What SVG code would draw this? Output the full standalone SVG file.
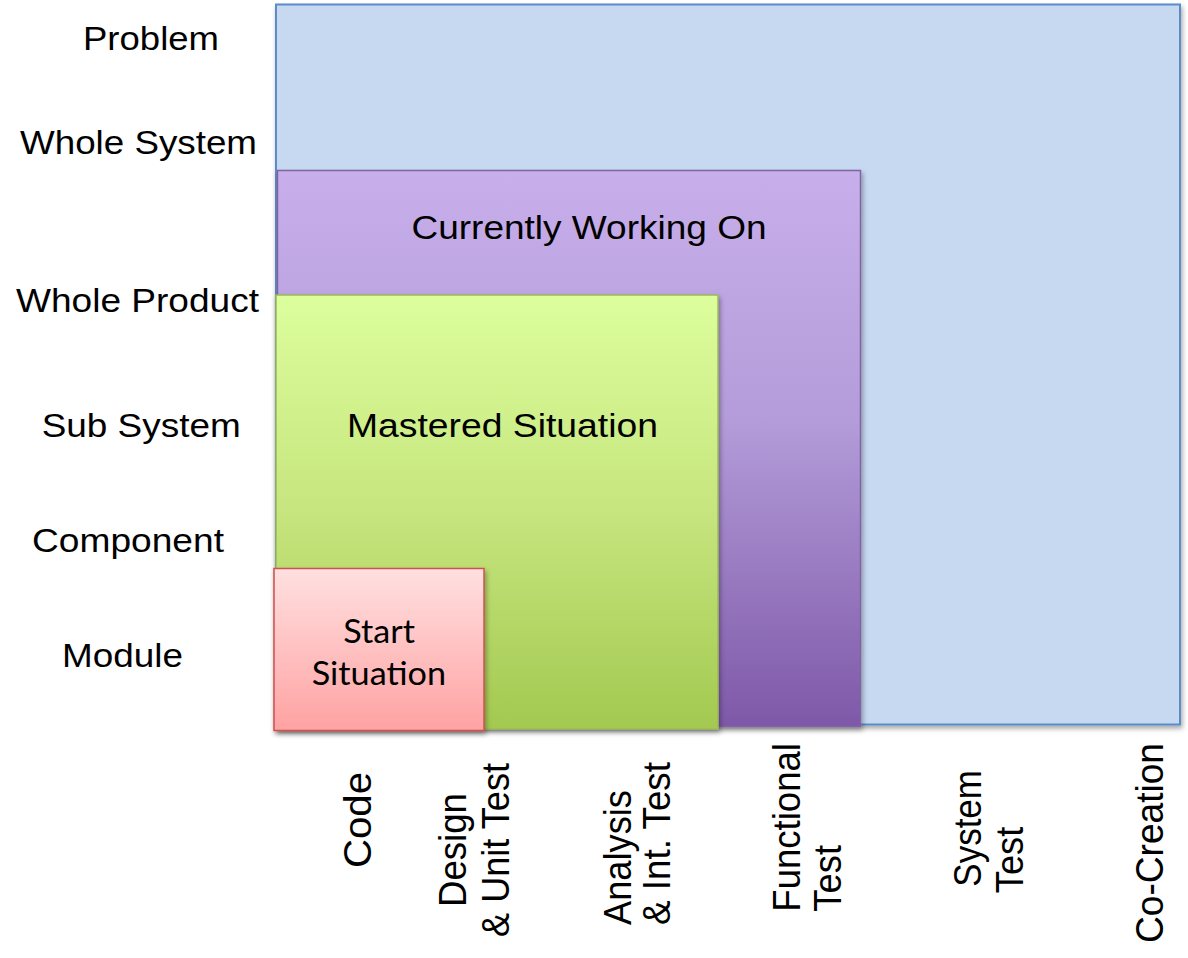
<svg xmlns="http://www.w3.org/2000/svg" width="1188" height="958" viewBox="0 0 1188 958">
<style>
.lbl{font-family:"Liberation Sans",Arial,Helvetica,sans-serif;font-size:33.5px;fill:#000}
.axl{font-family:"Liberation Sans",Arial,Helvetica,sans-serif;font-size:38px;fill:#000}
.cal{font-family:Lato,"Open Sans",sans-serif;font-size:33px;fill:#000}
</style>
<defs>
<filter id="sh" x="-5%" y="-5%" width="110%" height="110%">
<feDropShadow dx="1.5" dy="3" stdDeviation="2.5" flood-color="#000" flood-opacity="0.35"/>
</filter>
<linearGradient id="gPurple" x1="0" y1="0" x2="0" y2="1">
<stop offset="0" stop-color="#c8afec"/>
<stop offset="0.45" stop-color="#b39cd9"/>
<stop offset="1" stop-color="#7e58a8"/>
</linearGradient>
<linearGradient id="gGreen" x1="0" y1="0" x2="0" y2="1">
<stop offset="0" stop-color="#dcfe9c"/>
<stop offset="0.5" stop-color="#c6e57e"/>
<stop offset="1" stop-color="#a3c950"/>
</linearGradient>
<linearGradient id="gRed" x1="0" y1="0" x2="0" y2="1">
<stop offset="0" stop-color="#ffe0e0"/>
<stop offset="1" stop-color="#ffa2a2"/>
</linearGradient>
</defs>
<rect width="1188" height="958" fill="#fff"/>

<g id="problem-area">
<rect x="276" y="4.5" width="904" height="720" fill="#c6d9f0" stroke="#5b8bc9" stroke-width="2" filter="url(#sh)"/>
</g>

<g id="currently-working-on">
<rect x="277.5" y="170.5" width="583" height="556" fill="url(#gPurple)" stroke="#8064a2" stroke-width="1.5" filter="url(#sh)"/>
<text class="lbl" x="411.5" y="238.5" textLength="355" lengthAdjust="spacingAndGlyphs">Currently Working On</text>
</g>

<g id="mastered-situation">
<rect x="276" y="295" width="442" height="434" fill="url(#gGreen)" stroke="#9bbb59" stroke-width="1.5" filter="url(#sh)"/>
<text class="lbl" x="347" y="437" textLength="311" lengthAdjust="spacingAndGlyphs">Mastered Situation</text>
</g>

<g id="start-situation">
<rect x="274" y="568.5" width="210" height="162" fill="url(#gRed)" stroke="#d05050" stroke-width="1.5" filter="url(#sh)"/>
<text class="cal" x="343.3" y="642.7" textLength="71.7" lengthAdjust="spacingAndGlyphs">Start</text>
<text class="cal" x="311.7" y="685" textLength="134.3" lengthAdjust="spacingAndGlyphs">Situation</text>
</g>

<g id="y-axis-labels">
<text class="lbl" x="83" y="50" textLength="136" lengthAdjust="spacingAndGlyphs">Problem</text>
<text class="lbl" x="20" y="154" textLength="237" lengthAdjust="spacingAndGlyphs">Whole System</text>
<text class="lbl" x="16" y="311.5" textLength="243" lengthAdjust="spacingAndGlyphs">Whole Product</text>
<text class="lbl" x="41.7" y="436.7" textLength="199" lengthAdjust="spacingAndGlyphs">Sub System</text>
<text class="lbl" x="32" y="551.7" textLength="192" lengthAdjust="spacingAndGlyphs">Component</text>
<text class="lbl" x="62" y="666.7" textLength="121" lengthAdjust="spacingAndGlyphs">Module</text>
</g>

<g id="x-axis-labels">
<text class="axl" transform="translate(371,868) rotate(-90)" textLength="96" lengthAdjust="spacingAndGlyphs">Code</text>
<text class="axl" transform="translate(466,907) rotate(-90)" textLength="114" lengthAdjust="spacingAndGlyphs">Design</text>
<text class="axl" transform="translate(509,937) rotate(-90)" textLength="174" lengthAdjust="spacingAndGlyphs">&amp; Unit Test</text>
<text class="axl" transform="translate(631,925) rotate(-90)" textLength="135" lengthAdjust="spacingAndGlyphs">Analysis</text>
<text class="axl" transform="translate(670,925) rotate(-90)" textLength="163" lengthAdjust="spacingAndGlyphs">&amp; Int. Test</text>
<text class="axl" transform="translate(800,911.7) rotate(-90)" textLength="168.7" lengthAdjust="spacingAndGlyphs">Functional</text>
<text class="axl" transform="translate(841,911.7) rotate(-90)" textLength="66.7" lengthAdjust="spacingAndGlyphs">Test</text>
<text class="axl" transform="translate(981,886.7) rotate(-90)" textLength="116.7" lengthAdjust="spacingAndGlyphs">System</text>
<text class="axl" transform="translate(1023,893.3) rotate(-90)" textLength="66.7" lengthAdjust="spacingAndGlyphs">Test</text>
<text class="axl" transform="translate(1163,943) rotate(-90)" textLength="200" lengthAdjust="spacingAndGlyphs">Co-Creation</text>
</g>
</svg>
